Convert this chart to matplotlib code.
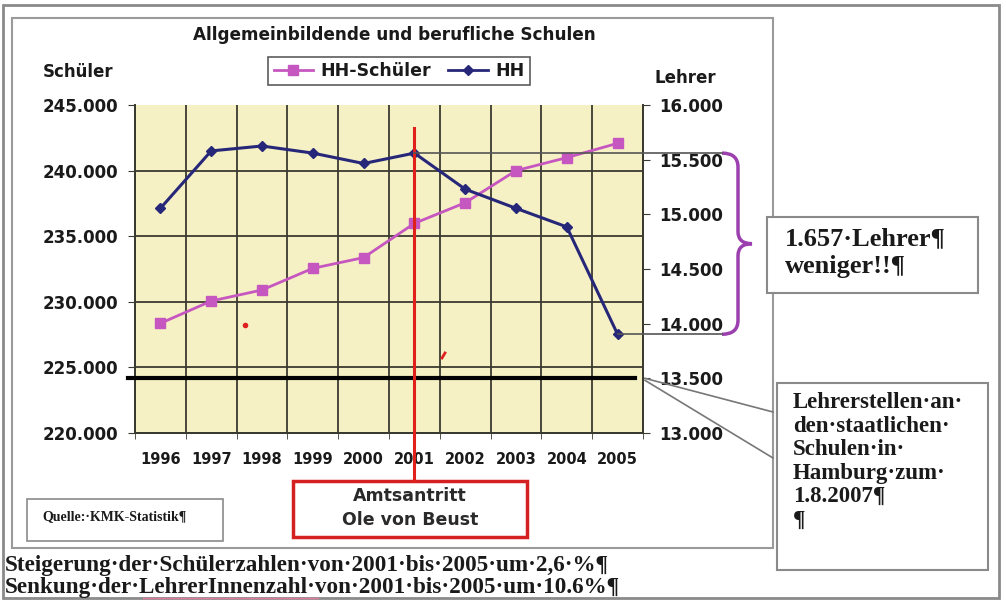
import matplotlib
matplotlib.use("Agg")
import matplotlib.pyplot as plt
from matplotlib.patches import Rectangle, PathPatch
from matplotlib.path import Path
from matplotlib.ticker import FuncFormatter, FixedLocator
from matplotlib.lines import Line2D

# data
years = ["1996", "1997", "1998", "1999", "2000", "2001", "2002", "2003", "2004", "2005"]
schueler = [228360, 230060, 230900, 232550, 233370, 235980, 237550, 240000, 240990, 242080]
lehrer = [15055, 15580, 15625, 15560, 15465, 15560, 15230, 15055, 14885, 13903]
lehrer_stellen_2007 = 13500

SANS = "DejaVu Sans"
SERIF = "Liberation Serif"
SCH_COL = "#c656c0"
HH_COL = "#27277a"
GRID_COL = "#3a3a30"
TXT = "#1a1a1a"

W, H = 1006, 603
fig = plt.figure(figsize=(W / 100, H / 100), dpi=100)

# background layer (frames)
bg = fig.add_axes([0, 0, 1, 1], zorder=0)
bg.set_xlim(0, W)
bg.set_ylim(H, 0)
bg.axis("off")
bg.add_patch(Rectangle((3, 5), 996, 593, fill=False, ec="#8a8a8a", lw=2))
bg.add_patch(Rectangle((12, 18), 761, 530, fill=False, ec="#9a9a9a", lw=1.5))

# main chart
ax = fig.add_axes([135 / W, 1 - 433 / H, 508 / W, 328 / H], zorder=1)
ax2 = ax.twinx()
ax.set_facecolor("#f6f1c4")

x = list(range(len(years)))
ax.plot(x, schueler, color=SCH_COL, lw=2, marker="s", ms=7.5, mec=SCH_COL, zorder=3)
ax2.plot(x, lehrer, color=HH_COL, lw=2.2, marker="D", ms=5.5, mec=HH_COL, zorder=3)

ax.set_xlim(-0.5, len(years) - 0.5)
ax.set_ylim(220000, 245000)
ax2.set_ylim(13000, 16000)

fmt = FuncFormatter(lambda v, p: f"{int(v):,}".replace(",", "."))
ax.yaxis.set_major_locator(FixedLocator(range(220000, 245001, 5000)))
ax2.yaxis.set_major_locator(FixedLocator(range(13000, 16001, 500)))
ax.yaxis.set_major_formatter(fmt)
ax2.yaxis.set_major_formatter(fmt)

ax.set_xticks(x)
ax.set_xticklabels(years)
ax.set_xticks([i - 0.5 for i in range(len(years) + 1)], minor=True)
ax.tick_params(axis="x", which="major", length=0, pad=14, labelsize=10.5, colors=TXT)
ax.tick_params(axis="x", which="minor", length=4, color=GRID_COL)
ax.tick_params(axis="y", length=5, color=GRID_COL, pad=7, labelsize=12, colors=TXT)
ax2.tick_params(axis="y", length=5, color=GRID_COL, pad=7, labelsize=12, colors=TXT)
for lab in ax.get_xticklabels() + ax.get_yticklabels() + ax2.get_yticklabels():
    lab.set_fontfamily(SANS)
    lab.set_fontweight("bold")

ax.grid(axis="x", which="minor", color=GRID_COL, lw=1.3)
ax.grid(axis="y", which="major", color=GRID_COL, lw=1.3)
ax.yaxis.get_gridlines()[-1].set_visible(False)
ax.set_axisbelow(True)

for a in (ax, ax2):
    a.spines["top"].set_visible(False)
    for s in ("left", "right", "bottom"):
        a.spines[s].set_color(GRID_COL)
        a.spines[s].set_linewidth(1.3)

# thick black line: teacher positions 2007
ax2.plot([-0.64, len(years) - 0.66], [lehrer_stellen_2007] * 2, color="black", lw=3, clip_on=False, zorder=4)

# legend
handles = [Line2D([], [], color=SCH_COL, lw=2, marker="s", ms=7, mec=SCH_COL),
           Line2D([], [], color=HH_COL, lw=2, marker="D", ms=5, mec=HH_COL)]
leg = fig.legend(handles, ["HH-Schüler", "HH"], loc="center", ncol=2,
                 bbox_to_anchor=(399 / W, 1 - 71 / H), frameon=True, fancybox=False,
                 edgecolor="#333333", handlelength=2.3, handletextpad=0.4, columnspacing=1.0,
                 borderpad=0.3, prop={"family": SANS, "weight": "bold", "size": 12.5})
leg.get_frame().set_linewidth(1.2)
for t in leg.get_texts():
    t.set_color(TXT)

# titles
fig.text(394 / W, 1 - 35 / H, "Allgemeinbildende und berufliche Schulen", ha="center", va="center",
         family=SANS, weight="bold", fontsize=12.2, color=TXT)
fig.text(78 / W, 1 - 72 / H, "Schüler", ha="center", va="center", family=SANS, weight="bold",
         fontsize=12, color=TXT)
fig.text(685 / W, 1 - 78 / H, "Lehrer", ha="center", va="center", family=SANS, weight="bold",
         fontsize=12, color=TXT)

# foreground overlay for annotations
fg = fig.add_axes([0, 0, 1, 1], zorder=5)
fg.set_xlim(0, W)
fg.set_ylim(H, 0)
fg.axis("off")


def to_px(a, xv, yv):
    return fg.transData.inverted().transform(a.transData.transform((xv, yv)))


# red line: Amtsantritt 2001
x01, _ = to_px(ax, 5, schueler[5])
fg.plot([x01, x01], [128, 481], color="#e0201a", lw=2.2)
fg.add_patch(Rectangle((293, 481), 234, 56, fc="white", ec="#d42020", lw=2.5))
fg.text(410, 496, "Amtsantritt", ha="center", va="center", family=SANS, weight="bold",
        fontsize=12.5, color="#2a2a2a")
fg.text(410, 520, "Ole von Beust", ha="center", va="center", family=SANS, weight="bold",
        fontsize=12.5, color="#2a2a2a")

# stray red marks
fg.plot([245], [325], marker="o", ms=3, color="#e02020")
fg.plot([442, 445], [358, 353], color="#e02020", lw=2)

# bracket 2001 -> 2005
xa, ya = to_px(ax2, 5, lehrer[5])
xb, yb = to_px(ax2, 9, lehrer[9])
fg.plot([xa, 722], [ya, ya], color="#555555", lw=1.2)
fg.plot([xb, 722], [yb, yb], color="#555555", lw=1.2)
xl, xs, xt = 722, 738, 752
ym = (ya + yb) / 2
verts = [(xl, ya), (xs, ya), (xs, ya + 14), (xs, ym - 12), (xs, ym), (xt, ym),
         (xs, ym), (xs, ym + 12), (xs, yb - 14), (xs, yb), (xl, yb)]
codes = [Path.MOVETO, Path.CURVE3, Path.CURVE3, Path.LINETO, Path.CURVE3, Path.CURVE3,
         Path.CURVE3, Path.CURVE3, Path.LINETO, Path.CURVE3, Path.CURVE3]
fg.add_patch(PathPatch(Path(verts, codes), fill=False, ec="#9c40b0", lw=2.5))

fg.add_patch(Rectangle((767, 217), 211, 76, fc="white", ec="#8a8a8a", lw=1.5))
for yy, line in zip([239, 267], ["1.657·Lehrer¶", "weniger!!¶"]):
    fg.text(785, yy, line, ha="left", va="center", family=SERIF, weight="bold",
            fontsize=19, color=TXT)

# callout for the black line
xc, yc = to_px(ax2, len(years) - 0.5, lehrer_stellen_2007)
fg.plot([xc + 2, 773], [yc, 412], color="#777777", lw=1.2)
fg.plot([xc + 2, 773], [yc + 2, 458], color="#777777", lw=1.2)
fg.add_patch(Rectangle((777, 383), 211, 187, fc="white", ec="#8a8a8a", lw=1.5))
box_lines = ["Lehrerstellen·an·", "den·staatlichen·", "Schulen·in·", "Hamburg·zum·", "1.8.2007¶", "¶"]
for i, line in enumerate(box_lines):
    fg.text(793, 403 + 23.4 * i, line, ha="left", va="center", family=SERIF, weight="bold",
            fontsize=16.5, color=TXT)

# source box
fg.add_patch(Rectangle((27, 499), 196, 42, fc="white", ec="#8a8a8a", lw=1.2))
fg.text(42, 517, "Quelle:·KMK-Statistik¶", ha="left", va="center", family=SERIF,
        weight="bold", fontsize=10, color=TXT)

# bottom notes
fg.text(5, 565, "Steigerung·der·Schülerzahlen·von·2001·bis·2005·um·2,6·%¶", ha="left",
        va="center", family=SERIF, weight="bold", fontsize=16.7, color=TXT)
fg.text(5, 588, "Senkung·der·LehrerInnenzahl·von·2001·bis·2005·um·10.6%¶", ha="left",
        va="center", family=SERIF, weight="bold", fontsize=16.7, color=TXT)
fg.plot([143, 318], [598, 598], color="#e07a9a", lw=1)

fig.savefig("out.png", dpi=100)
